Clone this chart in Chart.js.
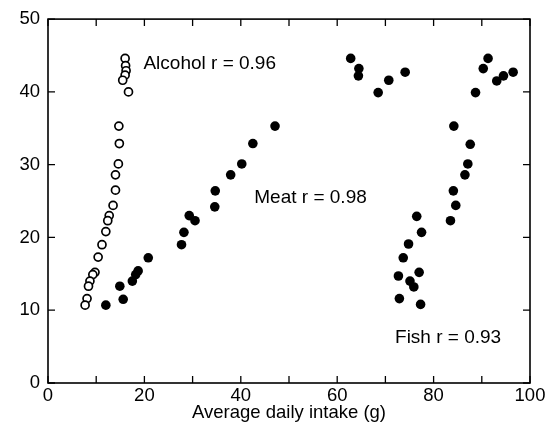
<!DOCTYPE html>
<html>
<head>
<meta charset="utf-8">
<script src="https://cdn.jsdelivr.net/npm/chart.js@4/dist/chart.umd.min.js"></script>
<style>
  html, body { margin: 0; padding: 0; background: #fff; }
  #wrap { width: 557px; height: 437px; position: relative; }
</style>
</head>
<body>
<div id="wrap"><canvas id="c"></canvas></div>
<script>
// ---- data ----
const alcoholX = [16.0,16.1,16.2,16.0,15.5,16.7,14.7,14.8,14.6,14.0,14.0,13.5,12.7,12.4,12.0,11.2,10.4,9.75,9.3,8.7,8.4,8.1,7.7];
const alcoholY = [44.6,43.6,42.9,42.3,41.6,40.0,35.3,32.9,30.1,28.6,26.5,24.4,23.0,22.3,20.8,19.0,17.3,15.2,14.9,14.0,13.3,11.6,10.7];

const meatX = [62.8,64.5,64.4,68.5,70.7,74.1,47.1,42.5,40.2,37.9,34.7,34.6,29.3,30.5,28.2,27.7,20.8,18.7,18.2,17.5,14.9,15.6,12.0];
const meatY = [44.6,43.2,42.2,39.9,41.6,42.7,35.3,32.9,30.1,28.6,26.4,24.2,23.0,22.3,20.7,19.0,17.2,15.4,14.9,14.0,13.3,11.5,10.7];

const fishX = [91.3,90.3,94.5,96.5,93.1,88.7,84.2,87.6,87.1,86.5,84.1,84.6,83.5,76.5,77.5,74.8,73.7,72.7,77.0,75.1,75.9,72.9,77.3];
const fishY = [44.6,43.2,42.2,42.7,41.5,39.9,35.3,32.8,30.1,28.6,26.4,24.4,22.3,22.9,20.7,19.1,17.2,14.7,15.2,14.0,13.2,11.6,10.8];

const xTickLabels = [0, 20, 40, 60, 80, 100];
const yTickLabels = [0, 10, 20, 30, 40, 50];
const seriesNames = ["Alcohol r = 0.96", "Meat r = 0.98", "Fish r = 0.93"];
const labelX = [19.8, 42.8, 72.0];
const labelY = [43.8, 25.5, 6.2];
const xTitle = "Average daily intake (g)";

const FONT = "'Liberation Sans', Arial, Helvetica, sans-serif";
const pts = (xs, ys) => xs.map((x, i) => ({x: x, y: ys[i]}));

const frameTicks = {
  id: 'frameTicks',
  afterDraw(chart) {
    const ctx = chart.ctx;
    const a = chart.chartArea;
    const xs = chart.scales.x, ys = chart.scales.y;
    ctx.save();
    ctx.strokeStyle = '#000';
    ctx.lineWidth = 1.6;
    ctx.strokeRect(a.left, a.top, a.right - a.left, a.bottom - a.top);
    const L = 7;
    ctx.lineWidth = 1.3;
    ctx.beginPath();
    xs.ticks.forEach(t => {
      const px = xs.getPixelForValue(t.value);
      ctx.moveTo(px, a.bottom); ctx.lineTo(px, a.bottom - L);
      ctx.moveTo(px, a.top); ctx.lineTo(px, a.top + L);
    });
    ys.ticks.forEach(t => {
      const py = ys.getPixelForValue(t.value);
      ctx.moveTo(a.left, py); ctx.lineTo(a.left + L, py);
      ctx.moveTo(a.right, py); ctx.lineTo(a.right - L, py);
    });
    ctx.stroke();
    ctx.fillStyle = '#000';
    ctx.font = '19px ' + FONT;
    ctx.textAlign = 'left';
    ctx.textBaseline = 'middle';
    seriesNames.forEach((s, i) => {
      ctx.fillText(s, xs.getPixelForValue(labelX[i]), ys.getPixelForValue(labelY[i]));
    });
    ctx.restore();
  }
};

new Chart(document.getElementById('c'), {
  type: 'scatter',
  data: {
    datasets: [
      { label: seriesNames[0], data: pts(alcoholX, alcoholY), pointStyle: 'circle', pointRadius: 4, pointBorderWidth: 1.7, pointBackgroundColor: '#fff', pointBorderColor: '#000' },
      { label: seriesNames[1], data: pts(meatX, meatY), pointStyle: 'circle', pointRadius: 4.8, pointBorderWidth: 0, pointBackgroundColor: '#000', pointBorderColor: '#000' },
      { label: seriesNames[2], data: pts(fishX, fishY), pointStyle: 'circle', pointRadius: 4.8, pointBorderWidth: 0, pointBackgroundColor: '#000', pointBorderColor: '#000' }
    ]
  },
  options: {
    responsive: true,
    maintainAspectRatio: false,
    animation: false,
    layout: { padding: { left: 0, right: 27, top: 18, bottom: 0 } },
    plugins: { legend: { display: false }, tooltip: { enabled: false } },
    scales: {
      x: {
        type: 'linear', min: 0, max: 100,
        grid: { display: false, drawTicks: false },
        border: { display: false },
        ticks: {
          stepSize: 10, padding: 2, color: '#000', font: { family: FONT, size: 18.5 },
          callback: v => xTickLabels.includes(v) ? String(v) : ''
        },
        title: { display: true, text: xTitle, color: '#000', font: { family: FONT, size: 18.5 }, padding: { top: 0, bottom: 13 } },
        afterFit: s => { s.height = 54; }
      },
      y: {
        type: 'linear', min: 0, max: 50,
        grid: { display: false, drawTicks: false },
        border: { display: false },
        ticks: {
          stepSize: 10, padding: 8, color: '#000', font: { family: FONT, size: 18.5 },
          callback: v => yTickLabels.includes(v) ? String(v) : ''
        },
        afterFit: s => { s.width = 48; }
      }
    }
  },
  plugins: [frameTicks]
});
</script>
</body>
</html>
